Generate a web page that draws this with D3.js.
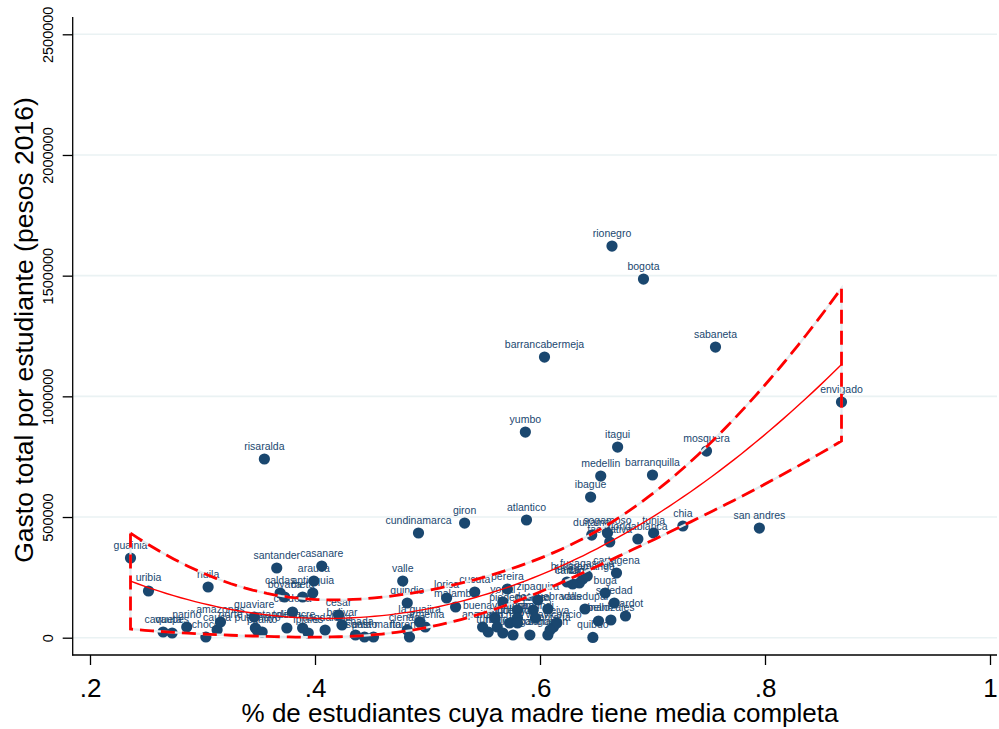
<!DOCTYPE html>
<html>
<head>
<meta charset="utf-8">
<script src="https://cdn.jsdelivr.net/npm/d3@7"></script>
<style>
  body { margin: 0; background: #fff; }
  svg { display: block; }
</style>
</head>
<body>
<script>
// Education entities: share of students whose mother completed secondary school,
// and total spending per student (2016 pesos).
const entityNames = [
  "rionegro","bogota","sabaneta","barrancabermeja","envigado","yumbo","itagui","mosquera",
  "risaralda","medellin","barranquilla","ibague","atlantico","giron","chia","san andres",
  "cundinamarca","tunja","sogamoso","duitama","floridablanca","facatativa","guainia","casanare",
  "santander","cartagena","fusagasuga","bucaramanga","tulua","cartago","funza","valle",
  "arauca","huila","pereira","uribia","cucuta","antioquia","caldas","buga",
  "boyaca","meta","lorica","zipaquira","yopal","quindio","soledad","malambo",
  "valledupar","dosquebradas","cordoba","cesar","bolivar","guaviare","girardot","piedecuesta",
  "palmira","buenaventura","soacha","jamundi","apartado","riohacha","sincelejo","turbo",
  "maicao","tumaco","magangue","sahagun","villavicencio","neiva","popayan","monteria",
  "bello","manizales","quibdo","caqueta","vaupes","nariño","choco","cauca",
  "amazonas","norte santander","putumayo","pitalito","tolima","sucre","ipiales","magdalena",
  "vichada","cienaga","santa marta","pasto","florencia","la guajira","armenia"
];
const motherShare = [
  0.664,0.692,0.756,0.604,0.868,0.587,0.669,0.748,
  0.355,0.654,0.700,0.645,0.588,0.533,0.727,0.795,
  0.492,0.701,0.660,0.646,0.687,0.662,0.236,0.406,
  0.366,0.668,0.642,0.638,0.635,0.629,0.624,0.478,
  0.399,0.305,0.571,0.252,0.542,0.398,0.369,0.658,
  0.373,0.389,0.517,0.598,0.567,0.482,0.666,0.525,
  0.640,0.607,0.380,0.421,0.424,0.346,0.676,0.580,
  0.594,0.560,0.580,0.596,0.549,0.562,0.573,0.554,
  0.567,0.576,0.591,0.607,0.612,0.615,0.580,0.609,
  0.652,0.663,0.647,0.265,0.273,0.286,0.303,0.313,
  0.316,0.347,0.349,0.353,0.375,0.389,0.394,0.409,
  0.436,0.482,0.452,0.444,0.484,0.493,0.498
];
const spendingPerStudent = [
  1622600,1485900,1204200,1162800,976400,852100,790000,773400,
  740300,669800,674000,582800,487600,475100,462700,454400,
  433700,433700,433700,425400,408900,396400,330200,297000,
  288700,268000,255600,243200,226600,222500,230700,234900,
  234900,210000,201700,193500,189300,185200,185200,185200,
  168600,168600,164500,156200,147900,143700,143700,127200,
  118900,118900,106500,94000,52600,85700,89900,114700,
  114700,81600,81600,81600,44300,44300,60900,23600,
  19500,11200,11200,11200,44300,60900,60900,31900,
  69200,73300,1000,23600,19500,44300,2900,31900,
  65000,40200,27800,23600,40200,40200,19500,31900,
  11200,31900,2900,2900,2900,65000,44300
];

const xTickValues = [0.2, 0.4, 0.6, 0.8, 1];
const xTickLabels = [".2", ".4", ".6", ".8", "1"];
const yTickValues = [0, 500000, 1000000, 1500000, 2000000, 2500000];
const yTickLabels = ["0", "500000", "1000000", "1500000", "2000000", "2500000"];

const xTitle = "% de estudiantes cuya madre tiene media completa";
const yTitle = "Gasto total por estudiante (pesos 2016)";

const W = 999, H = 729;
const navy = "#1a476f";
const fitRed = "#ff0000";

const svg = d3.select("body").append("svg")
  .attr("width", W).attr("height", H)
  .style("font-family", "'Liberation Sans', Arial, sans-serif");
svg.append("rect").attr("width", W).attr("height", H).attr("fill", "#fff");

const plotLeft = 72.7, plotRight = 997, plotTop = 17, plotBottom = 655;
const x = d3.scaleLinear().domain([0.2, 1]).range([90, 990]);
const y = d3.scaleLinear().domain([0, 2500000]).range([637.7, 34.3]);

// horizontal grid
svg.append("g").selectAll("line").data(yTickValues).join("line")
  .attr("x1", plotLeft).attr("x2", plotRight)
  .attr("y1", d => y(d)).attr("y2", d => y(d))
  .attr("stroke", "#eaf2f3").attr("stroke-width", 1.6);

// axes
const yAxis = d3.axisLeft(y).tickValues(yTickValues)
  .tickFormat((d, i) => yTickLabels[i]).tickSize(10).tickSizeOuter(0);
const gy = svg.append("g").attr("transform", `translate(${plotLeft},0)`).call(yAxis);
gy.select(".domain").remove();
gy.selectAll(".tick line").attr("stroke", "#000").attr("stroke-width", 1.3);
gy.selectAll(".tick text")
  .attr("x", 0).attr("dy", 0)
  .attr("transform", "translate(-19.5,0) rotate(-90)")
  .attr("text-anchor", "middle")
  .attr("font-size", 14.5).attr("fill", "#000");

const xAxis = d3.axisBottom(x).tickValues(xTickValues)
  .tickFormat((d, i) => xTickLabels[i]).tickSize(10).tickSizeOuter(0);
const gx = svg.append("g").attr("transform", `translate(0,${plotBottom})`).call(xAxis);
gx.select(".domain").remove();
gx.selectAll(".tick line").attr("stroke", "#000").attr("stroke-width", 1.3);
gx.selectAll(".tick text").attr("y", 0).attr("dy", 0)
  .attr("transform", "translate(0,42)")
  .attr("font-size", 26).attr("fill", "#000");

svg.append("line").attr("x1", plotLeft).attr("x2", plotLeft)
  .attr("y1", plotTop).attr("y2", plotBottom + 0.6)
  .attr("stroke", "#000").attr("stroke-width", 1.3);
svg.append("line").attr("x1", plotLeft - 0.6).attr("x2", plotRight)
  .attr("y1", plotBottom).attr("y2", plotBottom)
  .attr("stroke", "#000").attr("stroke-width", 1.3);

// titles
svg.append("text").text(xTitle)
  .attr("x", 540).attr("y", 722).attr("text-anchor", "middle")
  .attr("font-size", 26).attr("fill", "#000");
svg.append("text").text(yTitle)
  .attr("transform", "translate(33,330) rotate(-90)")
  .attr("text-anchor", "middle")
  .attr("font-size", 26.5).attr("fill", "#000");

// scatter with labels
const points = entityNames.map((n, i) => ({ name: n, mx: motherShare[i], sp: spendingPerStudent[i] }));
const gp = svg.append("g");
gp.selectAll("circle").data(points).join("circle")
  .attr("cx", d => x(d.mx)).attr("cy", d => y(d.sp)).attr("r", 5.6)
  .attr("fill", navy);
gp.selectAll("text").data(points).join("text")
  .text(d => d.name)
  .attr("x", d => x(d.mx)).attr("y", d => y(d.sp) - 9.5)
  .attr("text-anchor", "middle")
  .attr("font-size", 10.5).attr("fill", navy);

// quadratic least-squares fit with 95% confidence interval of the mean
function inv3(m) {
  const [a, b, c] = m[0], [d, e, f] = m[1], [g, h, k] = m[2];
  const A = e * k - f * h, B = -(d * k - f * g), C = d * h - e * g;
  const det = a * A + b * B + c * C;
  return [
    [A / det, -(b * k - c * h) / det, (b * f - c * e) / det],
    [B / det, (a * k - c * g) / det, -(a * f - c * d) / det],
    [C / det, -(a * h - b * g) / det, (a * e - b * d) / det]
  ];
}
const rows = points.map(p => [1, p.mx, p.mx * p.mx]);
const XtX = [[0,0,0],[0,0,0],[0,0,0]], Xty = [0,0,0];
rows.forEach((r, i) => {
  for (let a = 0; a < 3; a++) {
    Xty[a] += r[a] * points[i].sp;
    for (let b = 0; b < 3; b++) XtX[a][b] += r[a] * r[b];
  }
});
const XtXi = inv3(XtX);
const beta = [0,1,2].map(a => d3.sum([0,1,2], b => XtXi[a][b] * Xty[b]));
const n = points.length;
const ssr = d3.sum(rows, (r, i) => {
  const e = points[i].sp - (beta[0] + beta[1] * r[1] + beta[2] * r[2]);
  return e * e;
});
const s2 = ssr / (n - 3);
const tCrit = 1.986;
const [xmin, xmax] = d3.extent(motherShare);
const fit = d3.range(100).map(i => {
  const xv = xmin + (xmax - xmin) * i / 99;
  const v = [1, xv, xv * xv];
  const pred = beta[0] + beta[1] * xv + beta[2] * xv * xv;
  let q = 0;
  for (let a = 0; a < 3; a++) for (let b = 0; b < 3; b++) q += v[a] * XtXi[a][b] * v[b];
  const se = Math.sqrt(s2 * q);
  return { xv, pred, lo: pred - tCrit * se, hi: pred + tCrit * se };
});

const bandPts = fit.map(d => [x(d.xv), y(d.hi)])
  .concat(fit.slice().reverse().map(d => [x(d.xv), y(d.lo)]));
const band = d3.line()(bandPts) + "Z";
svg.append("path").attr("d", band).attr("fill", "none")
  .attr("stroke", "#e3ebee").attr("stroke-width", 2.2);
svg.append("path").attr("d", band).attr("fill", "none")
  .attr("stroke", fitRed).attr("stroke-width", 2.8)
  .attr("stroke-dasharray", "14,7");
svg.append("path")
  .attr("d", d3.line().x(d => x(d.xv)).y(d => y(d.pred))(fit))
  .attr("fill", "none").attr("stroke", fitRed).attr("stroke-width", 1.4);
</script>
</body>
</html>
